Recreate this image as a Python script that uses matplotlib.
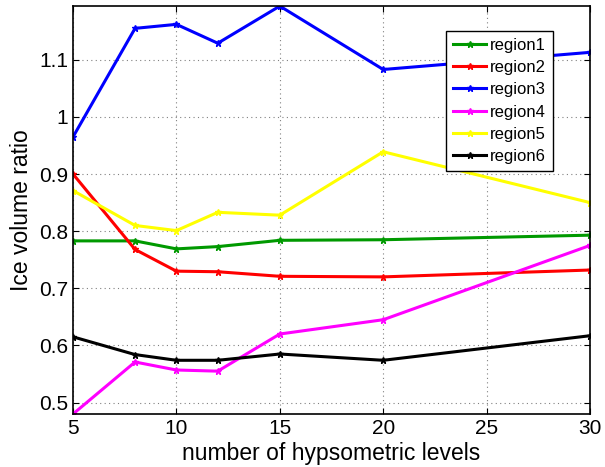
import matplotlib.pyplot as plt
import numpy as np

plt.rcParams['font.family'] = ['Liberation Sans', 'DejaVu Sans']

levels = [5, 8, 10, 12, 15, 20, 30]
region1 = [0.783, 0.783, 0.769, 0.773, 0.784, 0.785, 0.793]
region2 = [0.900, 0.768, 0.730, 0.729, 0.721, 0.720, 0.732]
region3 = [0.965, 1.155, 1.162, 1.129, 1.194, 1.083, 1.113]
region4 = [0.480, 0.571, 0.557, 0.555, 0.620, 0.645, 0.775]
region5 = [0.871, 0.810, 0.801, 0.833, 0.828, 0.939, 0.850]
region6 = [0.615, 0.584, 0.574, 0.574, 0.585, 0.574, 0.617]

series = [region1, region2, region3, region4, region5, region6]
names = ['region1', 'region2', 'region3', 'region4', 'region5', 'region6']
colors = [(0, 0.6, 0), 'red', 'blue', 'magenta', 'yellow', 'black']

fig = plt.figure(figsize=(6.05, 4.67), dpi=100)
ax = fig.add_axes([0.1207, 0.1135, 0.8545, 0.8735])

for vals, name, c in zip(series, names, colors):
    ax.plot(levels, vals, color=c, linewidth=2.2, marker='*', markersize=5, label=name)

allv = np.concatenate([np.array(s) for s in series])
ax.set_xlim(5, 30)
ax.set_ylim(allv.min(), allv.max())
ax.set_xticks([5, 10, 15, 20, 25, 30])
ax.set_yticks([0.5, 0.6, 0.7, 0.8, 0.9, 1, 1.1])
ax.set_yticklabels(['0.5', '0.6', '0.7', '0.8', '0.9', '1', '1.1'])
ax.tick_params(direction='in', labelsize=15, length=4, top=True, right=True)
ax.grid(True, linestyle=(0, (1, 3)), color='gray', linewidth=0.8)
for s in ax.spines.values():
    s.set_linewidth(1.2)

ax.set_xlabel('number of hypsometric levels', fontsize=16.5, labelpad=3)
ax.set_ylabel('Ice volume ratio', fontsize=16.5, labelpad=4)

leg = ax.legend(loc='upper left', bbox_to_anchor=(0.7215, 0.94), fontsize=12,
                fancybox=False, framealpha=1, edgecolor='black',
                handlelength=2.0, handletextpad=0.2, labelspacing=0.44,
                borderpad=0.42, borderaxespad=0)
leg.get_frame().set_linewidth(1.0)

fig.savefig('out.png', dpi=100)
